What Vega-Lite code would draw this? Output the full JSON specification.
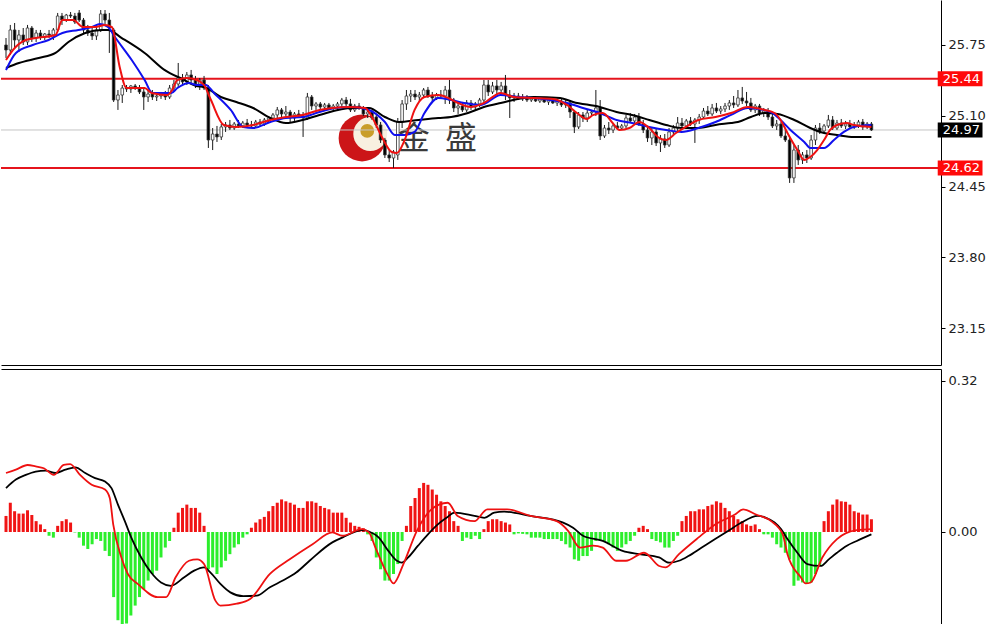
{
"$schema": "https://vega.github.io/schema/vega-lite/v6.json",
"background": "#ffffff",
"padding": 0,
"spacing": 4,
"config": {
 "view": {"stroke": null},
 "axis": {"domainColor": "#000000", "domainWidth": 1, "tickColor": "#000000", "tickSize": 4, "labelFont": "DejaVu Sans", "labelFontSize": 13, "labelColor": "#222222", "grid": false, "labelPadding": 3}
},
"datasets": {
 "one": [{}],
 "k": [
{"i":0,"o":25.750,"h":25.814,"l":25.631,"c":25.704,"m":0.034},
{"i":1,"o":25.704,"h":25.934,"l":25.658,"c":25.888,"m":0.062},
{"i":2,"o":25.888,"h":25.952,"l":25.722,"c":25.796,"m":0.044},
{"i":3,"o":25.796,"h":25.888,"l":25.686,"c":25.842,"m":0.039},
{"i":4,"o":25.842,"h":25.906,"l":25.750,"c":25.778,"m":0.039},
{"i":5,"o":25.778,"h":25.934,"l":25.750,"c":25.906,"m":0.046},
{"i":6,"o":25.906,"h":25.924,"l":25.778,"c":25.814,"m":0.036},
{"i":7,"o":25.814,"h":25.888,"l":25.778,"c":25.860,"m":0.023},
{"i":8,"o":25.860,"h":25.888,"l":25.796,"c":25.823,"m":0.016},
{"i":9,"o":25.823,"h":25.860,"l":25.796,"c":25.851,"m":0.006},
{"i":10,"o":25.851,"h":25.888,"l":25.814,"c":25.842,"m":-0.008},
{"i":11,"o":25.842,"h":25.906,"l":25.796,"c":25.888,"m":-0.012},
{"i":12,"o":25.888,"h":26.044,"l":25.869,"c":26.016,"m":0.013},
{"i":13,"o":26.016,"h":26.044,"l":25.934,"c":25.979,"m":0.023},
{"i":14,"o":25.979,"h":26.035,"l":25.961,"c":26.025,"m":0.027},
{"i":15,"o":26.025,"h":26.053,"l":25.998,"c":26.016,"m":0.020},
{"i":16,"o":26.016,"h":26.044,"l":25.943,"c":25.961,"m":-0.001},
{"i":17,"o":26.044,"h":26.071,"l":25.961,"c":25.979,"m":-0.012},
{"i":18,"o":25.979,"h":25.998,"l":25.860,"c":25.888,"m":-0.029},
{"i":19,"o":25.888,"h":25.934,"l":25.833,"c":25.860,"m":-0.036},
{"i":20,"o":25.860,"h":25.915,"l":25.796,"c":25.833,"m":-0.026},
{"i":21,"o":25.833,"h":25.915,"l":25.796,"c":25.888,"m":-0.015},
{"i":22,"o":25.888,"h":26.071,"l":25.869,"c":26.035,"m":-0.019},
{"i":23,"o":26.035,"h":26.071,"l":25.943,"c":25.979,"m":-0.040},
{"i":24,"o":25.979,"h":26.044,"l":25.677,"c":25.906,"m":-0.051},
{"i":25,"o":25.888,"h":25.906,"l":25.227,"c":25.245,"m":-0.138},
{"i":26,"o":25.245,"h":25.337,"l":25.154,"c":25.291,"m":-0.187},
{"i":27,"o":25.291,"h":25.383,"l":25.218,"c":25.355,"m":-0.198},
{"i":28,"o":25.355,"h":25.383,"l":25.319,"c":25.346,"m":-0.194},
{"i":29,"o":25.346,"h":25.383,"l":25.310,"c":25.374,"m":-0.177},
{"i":30,"o":25.374,"h":25.392,"l":25.337,"c":25.355,"m":-0.156},
{"i":31,"o":25.355,"h":25.383,"l":25.300,"c":25.319,"m":-0.138},
{"i":32,"o":25.319,"h":25.355,"l":25.154,"c":25.273,"m":-0.121},
{"i":33,"o":25.273,"h":25.337,"l":25.227,"c":25.300,"m":-0.103},
{"i":34,"o":25.300,"h":25.337,"l":25.245,"c":25.273,"m":-0.089},
{"i":35,"o":25.273,"h":25.310,"l":25.236,"c":25.282,"m":-0.082},
{"i":36,"o":25.282,"h":25.319,"l":25.255,"c":25.291,"m":-0.054},
{"i":37,"o":25.291,"h":25.328,"l":25.245,"c":25.273,"m":-0.033},
{"i":38,"o":25.273,"h":25.383,"l":25.255,"c":25.355,"m":-0.019},
{"i":39,"o":25.355,"h":25.429,"l":25.319,"c":25.392,"m":0.009},
{"i":40,"o":25.392,"h":25.585,"l":25.355,"c":25.447,"m":0.041},
{"i":41,"o":25.447,"h":25.484,"l":25.374,"c":25.411,"m":0.051},
{"i":42,"o":25.411,"h":25.502,"l":25.383,"c":25.475,"m":0.058},
{"i":43,"o":25.475,"h":25.521,"l":25.392,"c":25.429,"m":0.051},
{"i":44,"o":25.429,"h":25.466,"l":25.355,"c":25.392,"m":0.051},
{"i":45,"o":25.392,"h":25.447,"l":25.337,"c":25.429,"m":0.041},
{"i":46,"o":25.429,"h":25.466,"l":25.337,"c":25.355,"m":0.013},
{"i":47,"o":25.355,"h":25.383,"l":24.805,"c":24.878,"m":-0.079},
{"i":48,"o":24.878,"h":24.988,"l":24.786,"c":24.933,"m":-0.075},
{"i":49,"o":24.933,"h":25.007,"l":24.860,"c":24.906,"m":-0.089},
{"i":50,"o":24.906,"h":25.025,"l":24.878,"c":24.998,"m":-0.075},
{"i":51,"o":24.998,"h":25.043,"l":24.952,"c":25.016,"m":-0.061},
{"i":52,"o":25.016,"h":25.062,"l":24.970,"c":24.988,"m":-0.047},
{"i":53,"o":24.988,"h":25.043,"l":24.970,"c":25.025,"m":-0.033},
{"i":54,"o":25.025,"h":25.062,"l":24.988,"c":25.007,"m":-0.026},
{"i":55,"o":25.007,"h":25.053,"l":24.988,"c":25.034,"m":-0.012},
{"i":56,"o":25.034,"h":25.071,"l":24.998,"c":25.016,"m":-0.005},
{"i":57,"o":25.016,"h":25.053,"l":24.988,"c":25.007,"m":0.009},
{"i":58,"o":25.007,"h":25.062,"l":24.988,"c":25.043,"m":0.020},
{"i":59,"o":25.043,"h":25.071,"l":25.007,"c":25.025,"m":0.027},
{"i":60,"o":25.025,"h":25.080,"l":25.007,"c":25.062,"m":0.032},
{"i":61,"o":25.062,"h":25.098,"l":25.034,"c":25.080,"m":0.044},
{"i":62,"o":25.080,"h":25.126,"l":25.053,"c":25.108,"m":0.055},
{"i":63,"o":25.108,"h":25.181,"l":25.080,"c":25.154,"m":0.062},
{"i":64,"o":25.154,"h":25.172,"l":25.089,"c":25.117,"m":0.069},
{"i":65,"o":25.117,"h":25.190,"l":25.098,"c":25.135,"m":0.065},
{"i":66,"o":25.135,"h":25.154,"l":25.043,"c":25.080,"m":0.062},
{"i":67,"o":25.080,"h":25.135,"l":25.053,"c":25.117,"m":0.058},
{"i":68,"o":25.117,"h":25.154,"l":25.080,"c":25.098,"m":0.051},
{"i":69,"o":25.098,"h":25.135,"l":24.906,"c":25.080,"m":0.051},
{"i":70,"o":25.080,"h":25.310,"l":25.062,"c":25.273,"m":0.065},
{"i":71,"o":25.273,"h":25.291,"l":25.154,"c":25.190,"m":0.065},
{"i":72,"o":25.190,"h":25.227,"l":25.154,"c":25.209,"m":0.062},
{"i":73,"o":25.209,"h":25.227,"l":25.163,"c":25.181,"m":0.055},
{"i":74,"o":25.181,"h":25.218,"l":25.154,"c":25.200,"m":0.051},
{"i":75,"o":25.200,"h":25.218,"l":25.163,"c":25.172,"m":0.048},
{"i":76,"o":25.172,"h":25.209,"l":25.144,"c":25.190,"m":0.041},
{"i":77,"o":25.190,"h":25.227,"l":25.154,"c":25.209,"m":0.041},
{"i":78,"o":25.209,"h":25.264,"l":25.181,"c":25.245,"m":0.041},
{"i":79,"o":25.245,"h":25.273,"l":25.190,"c":25.209,"m":0.030},
{"i":80,"o":25.209,"h":25.255,"l":25.135,"c":25.154,"m":0.020},
{"i":81,"o":25.154,"h":25.209,"l":25.135,"c":25.190,"m":0.013},
{"i":82,"o":25.190,"h":25.218,"l":25.154,"c":25.172,"m":0.011},
{"i":83,"o":25.172,"h":25.190,"l":25.098,"c":25.117,"m":0.008},
{"i":84,"o":25.117,"h":25.154,"l":25.080,"c":25.135,"m":-0.005},
{"i":85,"o":25.135,"h":25.154,"l":25.062,"c":25.080,"m":-0.019},
{"i":86,"o":25.089,"h":25.108,"l":24.988,"c":25.016,"m":-0.054},
{"i":87,"o":25.016,"h":25.043,"l":24.851,"c":24.878,"m":-0.079},
{"i":88,"o":24.878,"h":24.897,"l":24.713,"c":24.741,"m":-0.103},
{"i":89,"o":24.741,"h":24.786,"l":24.676,"c":24.713,"m":-0.103},
{"i":90,"o":24.713,"h":24.786,"l":24.621,"c":24.768,"m":-0.089},
{"i":91,"o":24.741,"h":25.080,"l":24.695,"c":25.043,"m":-0.068},
{"i":92,"o":25.043,"h":25.245,"l":24.988,"c":25.209,"m":-0.019},
{"i":93,"o":25.209,"h":25.337,"l":25.154,"c":25.282,"m":0.013},
{"i":94,"o":25.282,"h":25.337,"l":25.227,"c":25.300,"m":0.055},
{"i":95,"o":25.300,"h":25.337,"l":25.245,"c":25.273,"m":0.072},
{"i":96,"o":25.273,"h":25.319,"l":25.227,"c":25.291,"m":0.093},
{"i":97,"o":25.291,"h":25.355,"l":25.264,"c":25.337,"m":0.104},
{"i":98,"o":25.337,"h":25.365,"l":25.264,"c":25.282,"m":0.100},
{"i":99,"o":25.282,"h":25.319,"l":25.236,"c":25.264,"m":0.090},
{"i":100,"o":25.264,"h":25.310,"l":25.245,"c":25.291,"m":0.079},
{"i":101,"o":25.291,"h":25.337,"l":25.264,"c":25.282,"m":0.065},
{"i":102,"o":25.282,"h":25.374,"l":25.209,"c":25.337,"m":0.055},
{"i":103,"o":25.337,"h":25.429,"l":25.209,"c":25.245,"m":0.044},
{"i":104,"o":25.245,"h":25.264,"l":25.135,"c":25.172,"m":0.023},
{"i":105,"o":25.172,"h":25.227,"l":25.117,"c":25.190,"m":0.013},
{"i":106,"o":25.190,"h":25.227,"l":25.135,"c":25.154,"m":-0.019},
{"i":107,"o":25.154,"h":25.245,"l":25.135,"c":25.218,"m":-0.012},
{"i":108,"o":25.218,"h":25.245,"l":25.154,"c":25.181,"m":-0.015},
{"i":109,"o":25.181,"h":25.227,"l":25.154,"c":25.209,"m":-0.008},
{"i":110,"o":25.209,"h":25.264,"l":25.181,"c":25.245,"m":-0.015},
{"i":111,"o":25.245,"h":25.429,"l":25.218,"c":25.383,"m":0.006},
{"i":112,"o":25.383,"h":25.429,"l":25.282,"c":25.319,"m":0.023},
{"i":113,"o":25.319,"h":25.411,"l":25.300,"c":25.374,"m":0.027},
{"i":114,"o":25.374,"h":25.429,"l":25.291,"c":25.337,"m":0.027},
{"i":115,"o":25.337,"h":25.411,"l":25.310,"c":25.374,"m":0.023},
{"i":116,"o":25.374,"h":25.475,"l":25.245,"c":25.291,"m":0.020},
{"i":117,"o":25.291,"h":25.337,"l":25.080,"c":25.264,"m":0.016},
{"i":118,"o":25.264,"h":25.310,"l":25.227,"c":25.282,"m":-0.005},
{"i":119,"o":25.282,"h":25.310,"l":25.245,"c":25.255,"m":-0.003},
{"i":120,"o":25.255,"h":25.300,"l":25.236,"c":25.273,"m":-0.004},
{"i":121,"o":25.273,"h":25.291,"l":25.227,"c":25.245,"m":-0.005},
{"i":122,"o":25.245,"h":25.273,"l":25.227,"c":25.255,"m":-0.012},
{"i":123,"o":25.255,"h":25.282,"l":25.227,"c":25.236,"m":-0.012},
{"i":124,"o":25.236,"h":25.273,"l":25.218,"c":25.255,"m":-0.012},
{"i":125,"o":25.255,"h":25.273,"l":25.218,"c":25.227,"m":-0.015},
{"i":126,"o":25.227,"h":25.264,"l":25.200,"c":25.245,"m":-0.015},
{"i":127,"o":25.245,"h":25.273,"l":25.209,"c":25.218,"m":-0.015},
{"i":128,"o":25.218,"h":25.255,"l":25.190,"c":25.236,"m":-0.015},
{"i":129,"o":25.236,"h":25.264,"l":25.181,"c":25.200,"m":-0.019},
{"i":130,"o":25.200,"h":25.245,"l":25.172,"c":25.218,"m":-0.026},
{"i":131,"o":25.218,"h":25.245,"l":25.080,"c":25.135,"m":-0.033},
{"i":132,"o":25.135,"h":25.154,"l":24.942,"c":24.998,"m":-0.058},
{"i":133,"o":24.998,"h":25.135,"l":24.979,"c":25.108,"m":-0.061},
{"i":134,"o":25.108,"h":25.135,"l":25.043,"c":25.080,"m":-0.051},
{"i":135,"o":25.080,"h":25.154,"l":25.043,"c":25.126,"m":-0.051},
{"i":136,"o":25.126,"h":25.154,"l":25.098,"c":25.135,"m":-0.040},
{"i":137,"o":25.135,"h":25.337,"l":25.098,"c":25.172,"m":-0.019},
{"i":138,"o":25.172,"h":25.245,"l":24.878,"c":24.915,"m":-0.019},
{"i":139,"o":24.915,"h":25.016,"l":24.897,"c":24.988,"m":-0.019},
{"i":140,"o":24.988,"h":25.043,"l":24.933,"c":24.970,"m":-0.026},
{"i":141,"o":24.970,"h":25.025,"l":24.942,"c":25.007,"m":-0.033},
{"i":142,"o":25.007,"h":25.043,"l":24.970,"c":24.988,"m":-0.040},
{"i":143,"o":24.988,"h":25.025,"l":24.970,"c":25.007,"m":-0.033},
{"i":144,"o":25.007,"h":25.108,"l":24.988,"c":25.080,"m":-0.026},
{"i":145,"o":25.080,"h":25.126,"l":25.034,"c":25.053,"m":-0.019},
{"i":146,"o":25.053,"h":25.117,"l":25.025,"c":25.089,"m":-0.008},
{"i":147,"o":25.089,"h":25.126,"l":25.007,"c":25.025,"m":0.009},
{"i":148,"o":25.025,"h":25.062,"l":24.942,"c":24.970,"m":0.013},
{"i":149,"o":24.970,"h":25.007,"l":24.860,"c":24.897,"m":0.006},
{"i":150,"o":24.897,"h":24.988,"l":24.832,"c":24.952,"m":-0.015},
{"i":151,"o":24.952,"h":24.988,"l":24.823,"c":24.851,"m":-0.019},
{"i":152,"o":24.851,"h":24.924,"l":24.768,"c":24.887,"m":-0.022},
{"i":153,"o":24.887,"h":24.933,"l":24.805,"c":24.832,"m":-0.033},
{"i":154,"o":24.832,"h":24.988,"l":24.814,"c":24.952,"m":-0.033},
{"i":155,"o":24.952,"h":25.016,"l":24.915,"c":24.988,"m":-0.019},
{"i":156,"o":24.988,"h":25.089,"l":24.961,"c":25.034,"m":-0.008},
{"i":157,"o":25.034,"h":25.080,"l":24.988,"c":25.007,"m":0.023},
{"i":158,"o":25.007,"h":25.071,"l":24.979,"c":25.053,"m":0.034},
{"i":159,"o":25.053,"h":25.089,"l":25.007,"c":25.025,"m":0.044},
{"i":160,"o":25.025,"h":25.080,"l":24.851,"c":25.062,"m":0.044},
{"i":161,"o":25.062,"h":25.117,"l":25.025,"c":25.089,"m":0.048},
{"i":162,"o":25.089,"h":25.172,"l":25.071,"c":25.144,"m":0.048},
{"i":163,"o":25.144,"h":25.190,"l":25.098,"c":25.117,"m":0.055},
{"i":164,"o":25.117,"h":25.209,"l":25.098,"c":25.172,"m":0.058},
{"i":165,"o":25.172,"h":25.218,"l":25.126,"c":25.144,"m":0.065},
{"i":166,"o":25.144,"h":25.190,"l":25.117,"c":25.163,"m":0.062},
{"i":167,"o":25.163,"h":25.218,"l":25.135,"c":25.190,"m":0.051},
{"i":168,"o":25.190,"h":25.245,"l":25.154,"c":25.218,"m":0.044},
{"i":169,"o":25.218,"h":25.282,"l":25.172,"c":25.200,"m":0.034},
{"i":170,"o":25.200,"h":25.337,"l":25.181,"c":25.264,"m":0.027},
{"i":171,"o":25.264,"h":25.365,"l":25.209,"c":25.236,"m":0.023},
{"i":172,"o":25.236,"h":25.319,"l":25.190,"c":25.218,"m":0.016},
{"i":173,"o":25.218,"h":25.264,"l":25.135,"c":25.154,"m":0.013},
{"i":174,"o":25.154,"h":25.209,"l":25.126,"c":25.190,"m":0.016},
{"i":175,"o":25.190,"h":25.209,"l":25.098,"c":25.126,"m":0.006},
{"i":176,"o":25.126,"h":25.172,"l":25.089,"c":25.144,"m":-0.005},
{"i":177,"o":25.144,"h":25.172,"l":25.062,"c":25.089,"m":-0.005},
{"i":178,"o":25.089,"h":25.126,"l":24.988,"c":25.007,"m":-0.012},
{"i":179,"o":25.007,"h":25.062,"l":24.970,"c":25.025,"m":-0.026},
{"i":180,"o":25.025,"h":25.043,"l":24.897,"c":24.915,"m":-0.033},
{"i":181,"o":24.915,"h":24.970,"l":24.860,"c":24.878,"m":-0.044},
{"i":182,"o":24.878,"h":24.897,"l":24.484,"c":24.530,"m":-0.058},
{"i":183,"o":24.530,"h":24.832,"l":24.484,"c":24.786,"m":-0.114},
{"i":184,"o":24.786,"h":24.832,"l":24.649,"c":24.695,"m":-0.103},
{"i":185,"o":24.695,"h":24.768,"l":24.658,"c":24.741,"m":-0.107},
{"i":186,"o":24.741,"h":24.786,"l":24.667,"c":24.713,"m":-0.110},
{"i":187,"o":24.713,"h":24.924,"l":24.695,"c":24.878,"m":-0.107},
{"i":188,"o":24.878,"h":25.016,"l":24.832,"c":24.988,"m":-0.089},
{"i":189,"o":24.988,"h":25.034,"l":24.933,"c":24.961,"m":-0.072},
{"i":190,"o":24.961,"h":25.025,"l":24.942,"c":25.007,"m":0.023},
{"i":191,"o":25.007,"h":25.108,"l":24.988,"c":25.062,"m":0.044},
{"i":192,"o":25.062,"h":25.098,"l":24.970,"c":24.988,"m":0.058},
{"i":193,"o":24.988,"h":25.062,"l":24.970,"c":25.034,"m":0.069},
{"i":194,"o":25.034,"h":25.071,"l":24.988,"c":25.007,"m":0.065},
{"i":195,"o":25.007,"h":25.053,"l":24.979,"c":25.025,"m":0.064},
{"i":196,"o":25.025,"h":25.062,"l":24.988,"c":24.998,"m":0.058},
{"i":197,"o":24.998,"h":25.043,"l":24.979,"c":25.016,"m":0.044},
{"i":198,"o":25.016,"h":25.062,"l":24.988,"c":25.043,"m":0.041},
{"i":199,"o":25.043,"h":25.071,"l":24.970,"c":24.998,"m":0.037},
{"i":200,"o":24.998,"h":25.043,"l":24.979,"c":25.025,"m":0.037},
{"i":201,"o":25.025,"h":25.043,"l":24.961,"c":24.970,"m":0.027}
 ],
 "ma": [
{"s":"slow","i":0,"v":25.539},{"s":"slow","i":3,"v":25.585},{"s":"slow","i":7.6,"v":25.631},{"s":"slow","i":11.5,"v":25.677},{"s":"slow","i":14.5,"v":25.778},{"s":"slow","i":18.4,"v":25.860},{"s":"slow","i":22.3,"v":25.888},{"s":"slow","i":23.7,"v":25.888},{"s":"slow","i":26.9,"v":25.814},{"s":"slow","i":32.2,"v":25.677},{"s":"slow","i":36.8,"v":25.521},{"s":"slow","i":41.4,"v":25.429},{"s":"slow","i":44.1,"v":25.374},{"s":"slow","i":46,"v":25.365},{"s":"slow","i":49.9,"v":25.273},{"s":"slow","i":53.5,"v":25.227},{"s":"slow","i":57.4,"v":25.172},{"s":"slow","i":61.4,"v":25.080},{"s":"slow","i":65,"v":25.034},{"s":"slow","i":68.9,"v":25.062},{"s":"slow","i":72.8,"v":25.108},{"s":"slow","i":80.4,"v":25.172},{"s":"slow","i":84.3,"v":25.172},{"s":"slow","i":88,"v":25.089},{"s":"slow","i":91.2,"v":25.043},{"s":"slow","i":95.8,"v":25.062},{"s":"slow","i":100.4,"v":25.080},{"s":"slow","i":103.4,"v":25.089},{"s":"slow","i":107.3,"v":25.126},{"s":"slow","i":111,"v":25.181},{"s":"slow","i":114.9,"v":25.218},{"s":"slow","i":122.5,"v":25.273},{"s":"slow","i":128.7,"v":25.264},{"s":"slow","i":131.7,"v":25.227},{"s":"slow","i":137.9,"v":25.181},{"s":"slow","i":141.8,"v":25.135},{"s":"slow","i":145.4,"v":25.108},{"s":"slow","i":149.4,"v":25.062},{"s":"slow","i":153.3,"v":25.016},{"s":"slow","i":156.9,"v":24.988},{"s":"slow","i":160.8,"v":24.988},{"s":"slow","i":164.8,"v":25.016},{"s":"slow","i":168.4,"v":25.034},{"s":"slow","i":170,"v":25.043},{"s":"slow","i":173,"v":25.089},{"s":"slow","i":176.2,"v":25.126},{"s":"slow","i":179.2,"v":25.117},{"s":"slow","i":183.1,"v":25.062},{"s":"slow","i":186.8,"v":24.988},{"s":"slow","i":190,"v":24.942},{"s":"slow","i":193,"v":24.924},{"s":"slow","i":196.9,"v":24.906},{"s":"slow","i":201,"v":24.906},
{"s":"mid","i":0,"v":25.521},{"s":"mid","i":2.3,"v":25.677},{"s":"mid","i":6.2,"v":25.750},{"s":"mid","i":9.9,"v":25.796},{"s":"mid","i":13.1,"v":25.860},{"s":"mid","i":16.8,"v":25.888},{"s":"mid","i":20,"v":25.915},{"s":"mid","i":21.8,"v":25.943},{"s":"mid","i":23.7,"v":25.915},{"s":"mid","i":25.3,"v":25.823},{"s":"mid","i":29.2,"v":25.612},{"s":"mid","i":32.2,"v":25.429},{"s":"mid","i":34,"v":25.310},{"s":"mid","i":38.4,"v":25.310},{"s":"mid","i":39.8,"v":25.355},{"s":"mid","i":42.5,"v":25.401},{"s":"mid","i":44.3,"v":25.383},{"s":"mid","i":46.4,"v":25.383},{"s":"mid","i":48.3,"v":25.310},{"s":"mid","i":52.2,"v":25.154},{"s":"mid","i":55.1,"v":24.998},{"s":"mid","i":57.4,"v":24.988},{"s":"mid","i":61.4,"v":25.043},{"s":"mid","i":65,"v":25.080},{"s":"mid","i":68.9,"v":25.089},{"s":"mid","i":72.8,"v":25.135},{"s":"mid","i":76.5,"v":25.172},{"s":"mid","i":80.4,"v":25.181},{"s":"mid","i":84.3,"v":25.154},{"s":"mid","i":88,"v":25.043},{"s":"mid","i":90.3,"v":24.924},{"s":"mid","i":92.6,"v":24.924},{"s":"mid","i":94.9,"v":24.952},{"s":"mid","i":97.2,"v":25.126},{"s":"mid","i":100.4,"v":25.264},{"s":"mid","i":103.4,"v":25.245},{"s":"mid","i":106.4,"v":25.218},{"s":"mid","i":110.3,"v":25.200},{"s":"mid","i":114.9,"v":25.291},{"s":"mid","i":118.8,"v":25.273},{"s":"mid","i":122.5,"v":25.264},{"s":"mid","i":126.4,"v":25.245},{"s":"mid","i":130.3,"v":25.218},{"s":"mid","i":134,"v":25.172},{"s":"mid","i":137.9,"v":25.126},{"s":"mid","i":141.8,"v":25.062},{"s":"mid","i":145.4,"v":25.034},{"s":"mid","i":149.4,"v":24.998},{"s":"mid","i":153.3,"v":24.970},{"s":"mid","i":156.9,"v":24.952},{"s":"mid","i":160.8,"v":24.988},{"s":"mid","i":164.8,"v":25.043},{"s":"mid","i":168.4,"v":25.108},{"s":"mid","i":172.3,"v":25.172},{"s":"mid","i":177.6,"v":25.135},{"s":"mid","i":179.9,"v":25.062},{"s":"mid","i":182.2,"v":24.970},{"s":"mid","i":185.4,"v":24.860},{"s":"mid","i":186.8,"v":24.805},{"s":"mid","i":190,"v":24.805},{"s":"mid","i":192.3,"v":24.878},{"s":"mid","i":194.6,"v":24.952},{"s":"mid","i":196.9,"v":24.998},{"s":"mid","i":201,"v":25.016},
{"s":"fast","i":0,"v":25.612},{"s":"fast","i":1.6,"v":25.704},{"s":"fast","i":4.6,"v":25.796},{"s":"fast","i":6.9,"v":25.814},{"s":"fast","i":11.5,"v":25.842},{"s":"fast","i":13.1,"v":25.979},{"s":"fast","i":15.6,"v":25.979},{"s":"fast","i":17.9,"v":25.915},{"s":"fast","i":20.7,"v":25.915},{"s":"fast","i":23,"v":25.934},{"s":"fast","i":24.6,"v":25.915},{"s":"fast","i":26.4,"v":25.548},{"s":"fast","i":28,"v":25.355},{"s":"fast","i":32.2,"v":25.355},{"s":"fast","i":33.8,"v":25.310},{"s":"fast","i":37.5,"v":25.291},{"s":"fast","i":38.6,"v":25.337},{"s":"fast","i":39.8,"v":25.429},{"s":"fast","i":42,"v":25.447},{"s":"fast","i":44.3,"v":25.429},{"s":"fast","i":46,"v":25.383},{"s":"fast","i":47.6,"v":25.245},{"s":"fast","i":50.6,"v":25.016},{"s":"fast","i":53.5,"v":24.998},{"s":"fast","i":57.4,"v":25.016},{"s":"fast","i":61.4,"v":25.062},{"s":"fast","i":65,"v":25.089},{"s":"fast","i":68.9,"v":25.107},{"s":"fast","i":72.8,"v":25.154},{"s":"fast","i":75.8,"v":25.172},{"s":"fast","i":79.7,"v":25.181},{"s":"fast","i":83.4,"v":25.172},{"s":"fast","i":85,"v":25.089},{"s":"fast","i":87.3,"v":24.906},{"s":"fast","i":89.6,"v":24.768},{"s":"fast","i":90.8,"v":24.759},{"s":"fast","i":92.6,"v":24.878},{"s":"fast","i":94.9,"v":25.154},{"s":"fast","i":97.2,"v":25.273},{"s":"fast","i":100.4,"v":25.291},{"s":"fast","i":102.7,"v":25.264},{"s":"fast","i":105,"v":25.218},{"s":"fast","i":108,"v":25.181},{"s":"fast","i":111,"v":25.218},{"s":"fast","i":114.9,"v":25.310},{"s":"fast","i":117.9,"v":25.273},{"s":"fast","i":122.5,"v":25.264},{"s":"fast","i":127.1,"v":25.255},{"s":"fast","i":130.3,"v":25.200},{"s":"fast","i":132.6,"v":25.126},{"s":"fast","i":134.9,"v":25.071},{"s":"fast","i":136.3,"v":25.107},{"s":"fast","i":138.6,"v":25.126},{"s":"fast","i":140.9,"v":25.034},{"s":"fast","i":142.5,"v":24.970},{"s":"fast","i":144.8,"v":24.988},{"s":"fast","i":147.1,"v":25.043},{"s":"fast","i":149.4,"v":24.988},{"s":"fast","i":151.7,"v":24.897},{"s":"fast","i":153.3,"v":24.878},{"s":"fast","i":155.6,"v":24.942},{"s":"fast","i":157.9,"v":24.998},{"s":"fast","i":160.8,"v":25.062},{"s":"fast","i":164.8,"v":25.089},{"s":"fast","i":168.4,"v":25.126},{"s":"fast","i":172.3,"v":25.181},{"s":"fast","i":176.2,"v":25.154},{"s":"fast","i":178.5,"v":25.126},{"s":"fast","i":179.9,"v":25.062},{"s":"fast","i":181.5,"v":24.942},{"s":"fast","i":183.8,"v":24.786},{"s":"fast","i":185.4,"v":24.695},{"s":"fast","i":186.8,"v":24.722},{"s":"fast","i":188.4,"v":24.786},{"s":"fast","i":190,"v":24.878},{"s":"fast","i":191.4,"v":24.970},{"s":"fast","i":193,"v":25.016},{"s":"fast","i":195.3,"v":25.034},{"s":"fast","i":196.9,"v":25.016},{"s":"fast","i":201,"v":24.998}
 ],
 "md": [
{"s":"sig","i":0,"v":0.093},{"s":"sig","i":2.3,"v":0.111},{"s":"sig","i":4.6,"v":0.121},{"s":"sig","i":6.9,"v":0.128},{"s":"sig","i":9.2,"v":0.130},{"s":"sig","i":11.5,"v":0.125},{"s":"sig","i":13.8,"v":0.132},{"s":"sig","i":16.1,"v":0.137},{"s":"sig","i":18.4,"v":0.125},{"s":"sig","i":20.7,"v":0.114},{"s":"sig","i":23,"v":0.107},{"s":"sig","i":24.5,"v":0.093},{"s":"sig","i":26,"v":0.058},{"s":"sig","i":27.6,"v":0.023},{"s":"sig","i":29.1,"v":-0.012},{"s":"sig","i":31.4,"v":-0.054},{"s":"sig","i":33.7,"v":-0.086},{"s":"sig","i":36,"v":-0.107},{"s":"sig","i":38.3,"v":-0.114},{"s":"sig","i":41.4,"v":-0.096},{"s":"sig","i":43.7,"v":-0.082},{"s":"sig","i":46,"v":-0.075},{"s":"sig","i":47.5,"v":-0.086},{"s":"sig","i":49.8,"v":-0.110},{"s":"sig","i":52.1,"v":-0.128},{"s":"sig","i":55.1,"v":-0.136},{"s":"sig","i":58.2,"v":-0.135},{"s":"sig","i":61.3,"v":-0.117},{"s":"sig","i":64.3,"v":-0.103},{"s":"sig","i":67.4,"v":-0.086},{"s":"sig","i":70.5,"v":-0.061},{"s":"sig","i":75.8,"v":-0.022},{"s":"sig","i":78.1,"v":-0.012},{"s":"sig","i":82.7,"v":0.004},{"s":"sig","i":84.3,"v":0.001},{"s":"sig","i":86.6,"v":-0.012},{"s":"sig","i":88.8,"v":-0.040},{"s":"sig","i":90.8,"v":-0.061},{"s":"sig","i":91.9,"v":-0.065},{"s":"sig","i":93.4,"v":-0.054},{"s":"sig","i":95.7,"v":-0.029},{"s":"sig","i":98,"v":-0.005},{"s":"sig","i":100.3,"v":0.016},{"s":"sig","i":102.3,"v":0.030},{"s":"sig","i":104.2,"v":0.041},{"s":"sig","i":108.8,"v":0.034},{"s":"sig","i":111.1,"v":0.030},{"s":"sig","i":113.4,"v":0.041},{"s":"sig","i":115.7,"v":0.043},{"s":"sig","i":121.8,"v":0.034},{"s":"sig","i":129.4,"v":0.020},{"s":"sig","i":131.7,"v":0.009},{"s":"sig","i":134,"v":-0.008},{"s":"sig","i":138.6,"v":-0.019},{"s":"sig","i":143.2,"v":-0.040},{"s":"sig","i":147.1,"v":-0.047},{"s":"sig","i":151.7,"v":-0.054},{"s":"sig","i":154,"v":-0.065},{"s":"sig","i":156.3,"v":-0.061},{"s":"sig","i":158.5,"v":-0.051},{"s":"sig","i":161.6,"v":-0.033},{"s":"sig","i":164.7,"v":-0.015},{"s":"sig","i":167.7,"v":0.002},{"s":"sig","i":170.8,"v":0.020},{"s":"sig","i":174.6,"v":0.034},{"s":"sig","i":176.5,"v":0.030},{"s":"sig","i":178.5,"v":0.020},{"s":"sig","i":180,"v":0.006},{"s":"sig","i":181.5,"v":-0.015},{"s":"sig","i":183.8,"v":-0.044},{"s":"sig","i":186.1,"v":-0.068},{"s":"sig","i":189.2,"v":-0.072},{"s":"sig","i":191.1,"v":-0.058},{"s":"sig","i":193,"v":-0.044},{"s":"sig","i":195.3,"v":-0.029},{"s":"sig","i":197.6,"v":-0.019},{"s":"sig","i":201,"v":-0.005},
{"s":"macd","i":0,"v":0.125},{"s":"macd","i":2.3,"v":0.132},{"s":"macd","i":5,"v":0.142},{"s":"macd","i":6.9,"v":0.139},{"s":"macd","i":8.8,"v":0.135},{"s":"macd","i":11.1,"v":0.121},{"s":"macd","i":13.4,"v":0.142},{"s":"macd","i":14.9,"v":0.144},{"s":"macd","i":17.2,"v":0.121},{"s":"macd","i":19.9,"v":0.100},{"s":"macd","i":23,"v":0.090},{"s":"macd","i":24.1,"v":0.072},{"s":"macd","i":24.9,"v":0.016},{"s":"macd","i":26.8,"v":-0.054},{"s":"macd","i":28.3,"v":-0.089},{"s":"macd","i":30.6,"v":-0.110},{"s":"macd","i":35.2,"v":-0.138},{"s":"macd","i":37.2,"v":-0.138},{"s":"macd","i":39.4,"v":-0.096},{"s":"macd","i":42.5,"v":-0.061},{"s":"macd","i":44.4,"v":-0.058},{"s":"macd","i":46,"v":-0.068},{"s":"macd","i":48.6,"v":-0.145},{"s":"macd","i":49.8,"v":-0.156},{"s":"macd","i":53.6,"v":-0.152},{"s":"macd","i":56.7,"v":-0.142},{"s":"macd","i":61.3,"v":-0.089},{"s":"macd","i":65.9,"v":-0.058},{"s":"macd","i":71.2,"v":-0.026},{"s":"macd","i":75.8,"v":-0.001},{"s":"macd","i":78.1,"v":-0.008},{"s":"macd","i":82.7,"v":0.006},{"s":"macd","i":84.3,"v":-0.001},{"s":"macd","i":85.8,"v":-0.033},{"s":"macd","i":88.8,"v":-0.093},{"s":"macd","i":90,"v":-0.109},{"s":"macd","i":92.3,"v":-0.068},{"s":"macd","i":95.4,"v":0.002},{"s":"macd","i":98.8,"v":0.048},{"s":"macd","i":102.6,"v":0.062},{"s":"macd","i":104.9,"v":0.034},{"s":"macd","i":108.8,"v":0.023},{"s":"macd","i":111.8,"v":0.048},{"s":"macd","i":116.4,"v":0.048},{"s":"macd","i":121.8,"v":0.034},{"s":"macd","i":127.9,"v":0.023},{"s":"macd","i":130.6,"v":0.002},{"s":"macd","i":133.3,"v":-0.033},{"s":"macd","i":136.3,"v":-0.029},{"s":"macd","i":138.6,"v":-0.033},{"s":"macd","i":141.7,"v":-0.061},{"s":"macd","i":144,"v":-0.061},{"s":"macd","i":148.2,"v":-0.044},{"s":"macd","i":151.7,"v":-0.072},{"s":"macd","i":153.2,"v":-0.075},{"s":"macd","i":156.3,"v":-0.047},{"s":"macd","i":160.8,"v":-0.012},{"s":"macd","i":164.7,"v":0.016},{"s":"macd","i":169.3,"v":0.037},{"s":"macd","i":171.2,"v":0.048},{"s":"macd","i":174.2,"v":0.037},{"s":"macd","i":177.7,"v":0.023},{"s":"macd","i":180.4,"v":-0.005},{"s":"macd","i":181.5,"v":-0.047},{"s":"macd","i":184.6,"v":-0.096},{"s":"macd","i":185.7,"v":-0.109},{"s":"macd","i":186.9,"v":-0.107},{"s":"macd","i":189.6,"v":-0.054},{"s":"macd","i":193,"v":-0.015},{"s":"macd","i":197.6,"v":0.004},{"s":"macd","i":201,"v":0.006}
 ],
 "lv": [
{"v":25.44,"t":"25.44","k":"r"},
{"v":24.97,"t":"24.97","k":"b"},
{"v":24.62,"t":"24.62","k":"r"}
 ]
},
"vconcat": [
 {
  "width": 940,
  "height": 365,
  "layer": [
   {"data": {"name": "k"},
    "mark": {"type": "rule", "color": "#1a1a1a", "strokeWidth": 1, "opacity": 0},
    "encoding": {
     "x": {"field": "i", "type": "quantitative", "scale": {"domain": [0, 216], "nice": false, "zero": false}, "axis": {"orient": "bottom", "labels": false, "ticks": false, "domain": true, "title": null}},
     "y": {"field": "l", "type": "quantitative", "scale": {"domain": [22.813, 26.163], "nice": false, "zero": false}, "axis": {"orient": "right", "values": [23.15, 23.8, 24.45, 25.1, 25.75], "format": ".2f", "title": null}}}},
   {"data": {"name": "one"},
    "mark": {"type": "point", "shape": "circle", "filled": true, "opacity": 1, "size": 2200, "color": "#cc1518", "strokeWidth": 0},
    "encoding": {"x": {"datum": 82.7, "type": "quantitative"}, "y": {"datum": 24.897, "type": "quantitative"}}},
   {"data": {"name": "one"},
    "mark": {"type": "point", "shape": "circle", "filled": true, "opacity": 1, "size": 1150, "color": "#f8f0e0", "strokeWidth": 0},
    "encoding": {"x": {"datum": 84.6, "type": "quantitative"}, "y": {"datum": 24.933, "type": "quantitative"}}},
   {"data": {"name": "one"},
    "mark": {"type": "point", "shape": "circle", "filled": true, "opacity": 1, "size": 190, "color": "#c99e2a", "strokeWidth": 0},
    "encoding": {"x": {"datum": 83.9, "type": "quantitative"}, "y": {"datum": 24.961, "type": "quantitative"}}},
   {"data": {"name": "one"},
    "mark": {"type": "text", "text": "金", "font": "Noto Sans CJK SC", "fontSize": 32, "color": "#3a3a3a", "align": "center", "baseline": "middle"},
    "encoding": {"x": {"datum": 94.7, "type": "quantitative"}, "y": {"datum": 24.887, "type": "quantitative"}}},
   {"data": {"name": "one"},
    "mark": {"type": "text", "text": "盛", "font": "Noto Sans CJK SC", "fontSize": 32, "color": "#3a3a3a", "align": "center", "baseline": "middle"},
    "encoding": {"x": {"datum": 105.7, "type": "quantitative"}, "y": {"datum": 24.887, "type": "quantitative"}}},
   {"data": {"name": "lv"}, "transform": [{"filter": "datum.k == 'b'"}],
    "mark": {"type": "rule", "color": "#c4c4c4", "strokeWidth": 1},
    "encoding": {"y": {"field": "v", "type": "quantitative"}}},
   {"data": {"name": "lv"}, "transform": [{"filter": "datum.k == 'r'"}],
    "mark": {"type": "rule", "color": "#e5141c", "strokeWidth": 2},
    "encoding": {"y": {"field": "v", "type": "quantitative"}}},
   {"data": {"name": "k"},
    "mark": {"type": "rule", "color": "#1a1a1a", "strokeWidth": 1},
    "encoding": {
     "x": {"field": "i", "type": "quantitative"},
     "y": {"field": "l", "type": "quantitative"},
     "y2": {"field": "h"}}},
   {"data": {"name": "k"},
    "mark": {"type": "bar", "width": 2.6, "stroke": "#333333", "strokeWidth": 0.8},
    "encoding": {
     "x": {"field": "i", "type": "quantitative"},
     "y": {"field": "o", "type": "quantitative"},
     "y2": {"field": "c"},
     "fill": {"condition": {"test": "datum.c < datum.o", "value": "#000000"}, "value": "#ffffff"}}},
   {"data": {"name": "ma"}, "transform": [{"filter": "datum.s == 'slow'"}],
    "mark": {"type": "line", "strokeWidth": 2, "interpolate": "monotone", "color": "#000000"},
    "encoding": {"x": {"field": "i", "type": "quantitative"}, "y": {"field": "v", "type": "quantitative"}}},
   {"data": {"name": "ma"}, "transform": [{"filter": "datum.s == 'mid'"}],
    "mark": {"type": "line", "strokeWidth": 2, "interpolate": "monotone", "color": "#1010ee"},
    "encoding": {"x": {"field": "i", "type": "quantitative"}, "y": {"field": "v", "type": "quantitative"}}},
   {"data": {"name": "ma"}, "transform": [{"filter": "datum.s == 'fast'"}],
    "mark": {"type": "line", "strokeWidth": 2, "interpolate": "monotone", "color": "#ee1111"},
    "encoding": {"x": {"field": "i", "type": "quantitative"}, "y": {"field": "v", "type": "quantitative"}}},
   {"data": {"name": "lv"},
    "mark": {"type": "rule", "strokeWidth": 15},
    "encoding": {
     "x": {"datum": 216.4, "type": "quantitative"},
     "x2": {"datum": 226.8},
     "y": {"field": "v", "type": "quantitative"},
     "color": {"condition": {"test": "datum.k == 'b'", "value": "#000000"}, "value": "#ff0a0a"}}},
   {"data": {"name": "lv"},
    "mark": {"type": "text", "align": "left", "baseline": "middle", "dx": 5, "font": "DejaVu Sans", "fontSize": 13, "color": "#ffffff"},
    "encoding": {
     "x": {"datum": 216.4, "type": "quantitative"},
     "y": {"field": "v", "type": "quantitative"},
     "text": {"field": "t"}}}
  ]
 },
 {
  "width": 940,
  "height": 255,
  "layer": [
   {"data": {"name": "k"},
    "mark": {"type": "bar", "width": 3},
    "encoding": {
     "x": {"field": "i", "type": "quantitative", "scale": {"domain": [0, 216], "nice": false, "zero": false}, "axis": {"orient": "top", "labels": false, "ticks": false, "domain": true, "title": null}},
     "y": {"field": "m", "type": "quantitative", "scale": {"domain": [-0.195, 0.3454], "nice": false, "zero": false}, "axis": {"orient": "right", "values": [0.32, 0], "format": ".2f", "title": null}},
     "color": {"condition": {"test": "datum.m < 0", "value": "#2cee2c"}, "value": "#f01414"}}},
   {"data": {"name": "md"}, "transform": [{"filter": "datum.s == 'sig'"}],
    "mark": {"type": "line", "strokeWidth": 1.8, "interpolate": "monotone", "color": "#000000"},
    "encoding": {"x": {"field": "i", "type": "quantitative"}, "y": {"field": "v", "type": "quantitative"}}},
   {"data": {"name": "md"}, "transform": [{"filter": "datum.s == 'macd'"}],
    "mark": {"type": "line", "strokeWidth": 1.8, "interpolate": "monotone", "color": "#ee1111"},
    "encoding": {"x": {"field": "i", "type": "quantitative"}, "y": {"field": "v", "type": "quantitative"}}}
  ]
 }
]
}
